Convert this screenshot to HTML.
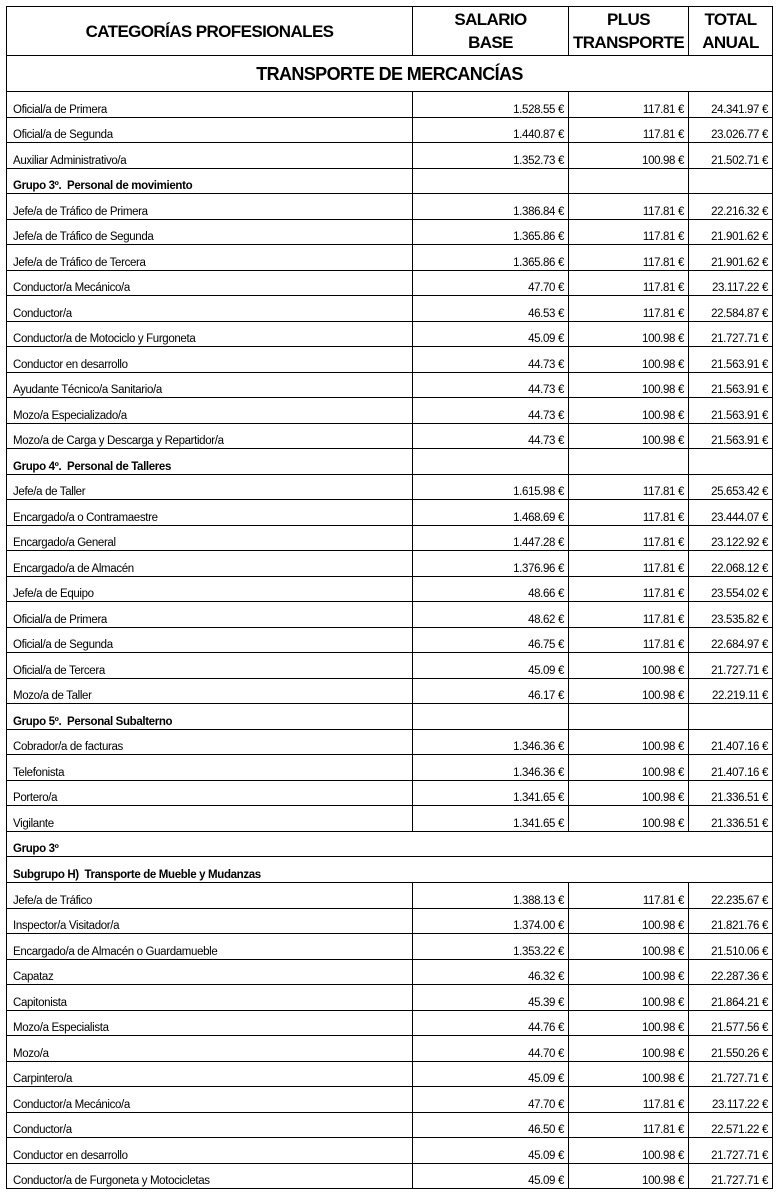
<!DOCTYPE html>
<html><head><meta charset="utf-8"><style>
body{margin:0;background:#fff;}
table{position:absolute;left:6px;top:6px;border-collapse:collapse;table-layout:fixed;width:766px;font-family:"Liberation Sans Narrow","Liberation Sans",sans-serif;color:#000;}
td{border:1.3px solid #000;padding:0 4px 1px 6px;font-size:11.5px;letter-spacing:-0.35px;vertical-align:bottom;white-space:nowrap;overflow:hidden;height:25.52px;box-sizing:border-box;line-height:12px;}
td.n{text-align:right;padding-right:4px;}
tr.h td{height:49px;font-weight:bold;font-size:17px;letter-spacing:-0.6px;text-align:center;vertical-align:middle;line-height:23px;padding:0;}
tr.t td{height:36px;font-weight:bold;font-size:18px;letter-spacing:-0.6px;text-align:center;vertical-align:middle;line-height:20px;padding:0;}
tr.g td{font-weight:bold;}
</style></head><body>
<table>
<colgroup><col style="width:406px"><col style="width:156px"><col style="width:120px"><col style="width:84px"></colgroup>
<tr class="h"><td>CATEGORÍAS PROFESIONALES</td><td>SALARIO<br>BASE</td><td>PLUS<br>TRANSPORTE</td><td>TOTAL<br>ANUAL</td></tr>
<tr class="t"><td colspan="4">TRANSPORTE DE MERCANCÍAS</td></tr>
<tr><td>Oficial/a de Primera</td><td class="n">1.528.55 €</td><td class="n">117.81 €</td><td class="n">24.341.97 €</td></tr>
<tr><td>Oficial/a de Segunda</td><td class="n">1.440.87 €</td><td class="n">117.81 €</td><td class="n">23.026.77 €</td></tr>
<tr><td>Auxiliar Administrativo/a</td><td class="n">1.352.73 €</td><td class="n">100.98 €</td><td class="n">21.502.71 €</td></tr>
<tr class="g"><td>Grupo 3º.&nbsp; Personal de movimiento</td><td></td><td></td><td></td></tr>
<tr><td>Jefe/a de Tráfico de Primera</td><td class="n">1.386.84 €</td><td class="n">117.81 €</td><td class="n">22.216.32 €</td></tr>
<tr><td>Jefe/a de Tráfico de Segunda</td><td class="n">1.365.86 €</td><td class="n">117.81 €</td><td class="n">21.901.62 €</td></tr>
<tr><td>Jefe/a de Tráfico de Tercera</td><td class="n">1.365.86 €</td><td class="n">117.81 €</td><td class="n">21.901.62 €</td></tr>
<tr><td>Conductor/a Mecánico/a</td><td class="n">47.70 €</td><td class="n">117.81 €</td><td class="n">23.117.22 €</td></tr>
<tr><td>Conductor/a</td><td class="n">46.53 €</td><td class="n">117.81 €</td><td class="n">22.584.87 €</td></tr>
<tr><td>Conductor/a de Motociclo y Furgoneta</td><td class="n">45.09 €</td><td class="n">100.98 €</td><td class="n">21.727.71 €</td></tr>
<tr><td>Conductor en desarrollo</td><td class="n">44.73 €</td><td class="n">100.98 €</td><td class="n">21.563.91 €</td></tr>
<tr><td>Ayudante Técnico/a Sanitario/a</td><td class="n">44.73 €</td><td class="n">100.98 €</td><td class="n">21.563.91 €</td></tr>
<tr><td>Mozo/a Especializado/a</td><td class="n">44.73 €</td><td class="n">100.98 €</td><td class="n">21.563.91 €</td></tr>
<tr><td>Mozo/a de Carga y Descarga y Repartidor/a</td><td class="n">44.73 €</td><td class="n">100.98 €</td><td class="n">21.563.91 €</td></tr>
<tr class="g"><td>Grupo 4º.&nbsp; Personal de Talleres</td><td></td><td></td><td></td></tr>
<tr><td>Jefe/a de Taller</td><td class="n">1.615.98 €</td><td class="n">117.81 €</td><td class="n">25.653.42 €</td></tr>
<tr><td>Encargado/a o Contramaestre</td><td class="n">1.468.69 €</td><td class="n">117.81 €</td><td class="n">23.444.07 €</td></tr>
<tr><td>Encargado/a General</td><td class="n">1.447.28 €</td><td class="n">117.81 €</td><td class="n">23.122.92 €</td></tr>
<tr><td>Encargado/a de Almacén</td><td class="n">1.376.96 €</td><td class="n">117.81 €</td><td class="n">22.068.12 €</td></tr>
<tr><td>Jefe/a de Equipo</td><td class="n">48.66 €</td><td class="n">117.81 €</td><td class="n">23.554.02 €</td></tr>
<tr><td>Oficial/a de Primera</td><td class="n">48.62 €</td><td class="n">117.81 €</td><td class="n">23.535.82 €</td></tr>
<tr><td>Oficial/a de Segunda</td><td class="n">46.75 €</td><td class="n">117.81 €</td><td class="n">22.684.97 €</td></tr>
<tr><td>Oficial/a de Tercera</td><td class="n">45.09 €</td><td class="n">100.98 €</td><td class="n">21.727.71 €</td></tr>
<tr><td>Mozo/a de Taller</td><td class="n">46.17 €</td><td class="n">100.98 €</td><td class="n">22.219.11 €</td></tr>
<tr class="g"><td>Grupo 5º.&nbsp; Personal Subalterno</td><td></td><td></td><td></td></tr>
<tr><td>Cobrador/a de facturas</td><td class="n">1.346.36 €</td><td class="n">100.98 €</td><td class="n">21.407.16 €</td></tr>
<tr><td>Telefonista</td><td class="n">1.346.36 €</td><td class="n">100.98 €</td><td class="n">21.407.16 €</td></tr>
<tr><td>Portero/a</td><td class="n">1.341.65 €</td><td class="n">100.98 €</td><td class="n">21.336.51 €</td></tr>
<tr><td>Vigilante</td><td class="n">1.341.65 €</td><td class="n">100.98 €</td><td class="n">21.336.51 €</td></tr>
<tr class="g"><td colspan="4">Grupo 3º</td></tr>
<tr class="g"><td colspan="4">Subgrupo H)&nbsp; Transporte de Mueble y Mudanzas</td></tr>
<tr><td>Jefe/a de Tráfico</td><td class="n">1.388.13 €</td><td class="n">117.81 €</td><td class="n">22.235.67 €</td></tr>
<tr><td>Inspector/a Visitador/a</td><td class="n">1.374.00 €</td><td class="n">100.98 €</td><td class="n">21.821.76 €</td></tr>
<tr><td>Encargado/a de Almacén o Guardamueble</td><td class="n">1.353.22 €</td><td class="n">100.98 €</td><td class="n">21.510.06 €</td></tr>
<tr><td>Capataz</td><td class="n">46.32 €</td><td class="n">100.98 €</td><td class="n">22.287.36 €</td></tr>
<tr><td>Capitonista</td><td class="n">45.39 €</td><td class="n">100.98 €</td><td class="n">21.864.21 €</td></tr>
<tr><td>Mozo/a Especialista</td><td class="n">44.76 €</td><td class="n">100.98 €</td><td class="n">21.577.56 €</td></tr>
<tr><td>Mozo/a</td><td class="n">44.70 €</td><td class="n">100.98 €</td><td class="n">21.550.26 €</td></tr>
<tr><td>Carpintero/a</td><td class="n">45.09 €</td><td class="n">100.98 €</td><td class="n">21.727.71 €</td></tr>
<tr><td>Conductor/a Mecánico/a</td><td class="n">47.70 €</td><td class="n">117.81 €</td><td class="n">23.117.22 €</td></tr>
<tr><td>Conductor/a</td><td class="n">46.50 €</td><td class="n">117.81 €</td><td class="n">22.571.22 €</td></tr>
<tr><td>Conductor en desarrollo</td><td class="n">45.09 €</td><td class="n">100.98 €</td><td class="n">21.727.71 €</td></tr>
<tr><td>Conductor/a de Furgoneta y Motocicletas</td><td class="n">45.09 €</td><td class="n">100.98 €</td><td class="n">21.727.71 €</td></tr>
</table>
</body></html>
